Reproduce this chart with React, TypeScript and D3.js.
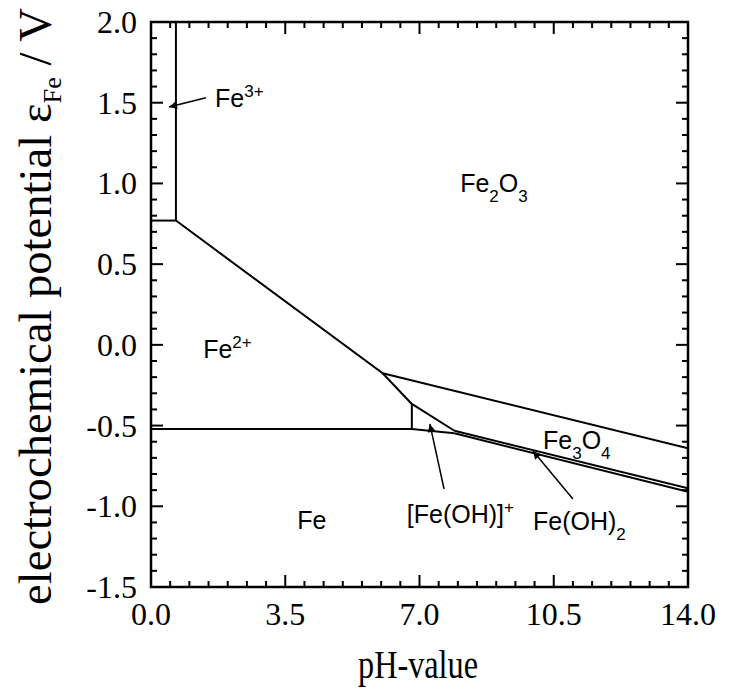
import React from "react";
import * as d3 from "d3";

// phase boundaries, [pH, potential in V]
const fe3Fe2O3 = [[0.65, 2.0], [0.65, 0.77]];
const fe3Fe2 = [[0, 0.77], [0.65, 0.77]];
const fe2Fe2O3 = [[0.65, 0.77], [6.04, -0.176], [6.8, -0.366]];
const fe2O3Fe3O4 = [[6.04, -0.176], [14, -0.641]];
const fe2FeOH = [[6.8, -0.366], [6.8, -0.521]];
const feOHFe3O4 = [[6.8, -0.366], [7.91, -0.532]];
const fe2Fe = [[0, -0.521], [6.8, -0.521], [7.91, -0.548]];
const fe3O4FeOH2 = [[7.91, -0.532], [14, -0.889]];
const feOH2Fe = [[7.91, -0.548], [14, -0.91]];

const boundaries = [fe3Fe2O3, fe3Fe2, fe2Fe2O3, fe2O3Fe3O4, fe2FeOH, feOHFe3O4, fe2Fe, fe3O4FeOH2, feOH2Fe];

const xTicks = [0, 3.5, 7, 10.5, 14];
const xTickLabels = ["0.0", "3.5", "7.0", "10.5", "14.0"];
const yTicks = [-1.5, -1.0, -0.5, 0, 0.5, 1.0, 1.5, 2.0];
const yTickLabels = ["-1.5", "-1.0", "-0.5", "0.0", "0.5", "1.0", "1.5", "2.0"];

// species labels: text parts [text, shift] where shift: 0 normal, 1 sup, -1 sub
const labels = [
  { pH: 1.67, E: 1.473, parts: [["Fe", 0], ["3+", 1]] },
  { pH: 8.06, E: 0.947, parts: [["Fe", 0], ["2", -1], ["O", 0], ["3", -1]] },
  { pH: 1.36, E: -0.081, parts: [["Fe", 0], ["2+", 1]] },
  { pH: 10.22, E: -0.645, parts: [["Fe", 0], ["3", -1], ["O", 0], ["4", -1]] },
  { pH: 3.81, E: -1.141, parts: [["Fe", 0]] },
  { pH: 6.67, E: -1.104, parts: [["[Fe(OH)]", 0], ["+", 1]] },
  { pH: 9.96, E: -1.147, parts: [["Fe(OH)", 0], ["2", -1]] },
];

// arrows [from, to] in [pH, V]
const arrows = [
  [[1.43, 1.531], [0.47, 1.473]],
  [[7.64, -0.893], [7.27, -0.49]],
  [[11.0, -0.955], [9.96, -0.657]],
];

const W = 732;
const H = 700;
const left = 151;
const right = 688;
const top = 22;
const bottom = 587;

export default function App() {
  const x = d3.scaleLinear().domain([0, 14]).range([left, right]);
  const y = d3.scaleLinear().domain([-1.5, 2.0]).range([bottom, top]);
  const line = d3.line<number[]>().x(d => x(d[0])).y(d => y(d[1]));

  const xMinor = d3.range(0, 14.001, 0.5);
  const yMinor = d3.range(-1.5, 2.001, 0.1);
  const isMajorX = (v: number) => Math.abs(v / 3.5 - Math.round(v / 3.5)) < 1e-6;
  const isMajorY = (v: number) => Math.abs(v / 0.5 - Math.round(v / 0.5)) < 1e-6;

  const serif = "'Liberation Serif', 'Times New Roman', serif";
  const sans = "'Liberation Sans', Arial, sans-serif";

  return (
    <svg width={W} height={H} style={{ position: "absolute", left: 0, top: 0, background: "#fff" }}>
      <defs>
        <marker id="ah" viewBox="0 0 10 10" refX="10" refY="5" markerWidth="12" markerHeight="8"
          markerUnits="userSpaceOnUse" orient="auto">
          <path d="M0,0 L10,5 L0,10 z" fill="#000" />
        </marker>
        <clipPath id="plot">
          <rect x={left} y={top} width={right - left} height={bottom - top} />
        </clipPath>
      </defs>

      {/* ticks, inward on all sides */}
      <g stroke="#000" strokeWidth={2}>
        {xMinor.map((v, i) => {
          const len = isMajorX(v) ? 12 : 6;
          return (
            <g key={"xt" + i}>
              <line x1={x(v)} x2={x(v)} y1={bottom} y2={bottom - len} />
              <line x1={x(v)} x2={x(v)} y1={top} y2={top + len} />
            </g>
          );
        })}
        {yMinor.map((v, i) => {
          const len = isMajorY(v) ? 12 : 6;
          return (
            <g key={"yt" + i}>
              <line x1={left} x2={left + len} y1={y(v)} y2={y(v)} />
              <line x1={right} x2={right - len} y1={y(v)} y2={y(v)} />
            </g>
          );
        })}
      </g>

      <g clipPath="url(#plot)" fill="none" stroke="#000" strokeWidth={2}>
        {boundaries.map((b, i) => (
          <path key={i} d={line(b) || ""} />
        ))}
      </g>

      <rect x={left} y={top} width={right - left} height={bottom - top} fill="none" stroke="#000" strokeWidth={2.5} />

      {xTicks.map((v, i) => (
        <text key={"xl" + i} x={x(v)} y={625} textAnchor="middle" fontFamily={serif} fontSize={32}>
          {xTickLabels[i]}
        </text>
      ))}
      {yTicks.map((v, i) => (
        <text key={"yl" + i} x={137} y={y(v) + 11} textAnchor="end" fontFamily={serif} fontSize={32}>
          {yTickLabels[i]}
        </text>
      ))}

      <text x={418} y={678} textAnchor="middle" fontFamily={serif} fontSize={40}
        textLength={120} lengthAdjust="spacingAndGlyphs">pH-value</text>
      <text transform={`translate(51,${(8 + 605) / 2}) rotate(-90)`} textAnchor="middle" fontFamily={serif}
        fontSize={46} textLength={597} lengthAdjust="spacingAndGlyphs">
        electrochemical potential ε<tspan dy={10} fontSize={26}>Fe</tspan><tspan dy={-10}> / V</tspan>
      </text>

      {labels.map((l, i) => (
        <text key={"lb" + i} x={x(l.pH)} y={y(l.E)} fontFamily={sans} fontSize={25}>
          {l.parts.map((p, j) => {
            const prev = j > 0 ? (l.parts[j - 1][1] as number) : 0;
            const cur = p[1] as number;
            const dy = (prev - cur) * 10;
            return (
              <tspan key={j} dy={dy} fontSize={cur === 0 ? 25 : 17}>{p[0]}</tspan>
            );
          })}
        </text>
      ))}

      {arrows.map((a, i) => (
        <line key={"ar" + i} x1={x(a[0][0])} y1={y(a[0][1])} x2={x(a[1][0])} y2={y(a[1][1])}
          stroke="#000" strokeWidth={1.5} markerEnd="url(#ah)" />
      ))}
    </svg>
  );
}
